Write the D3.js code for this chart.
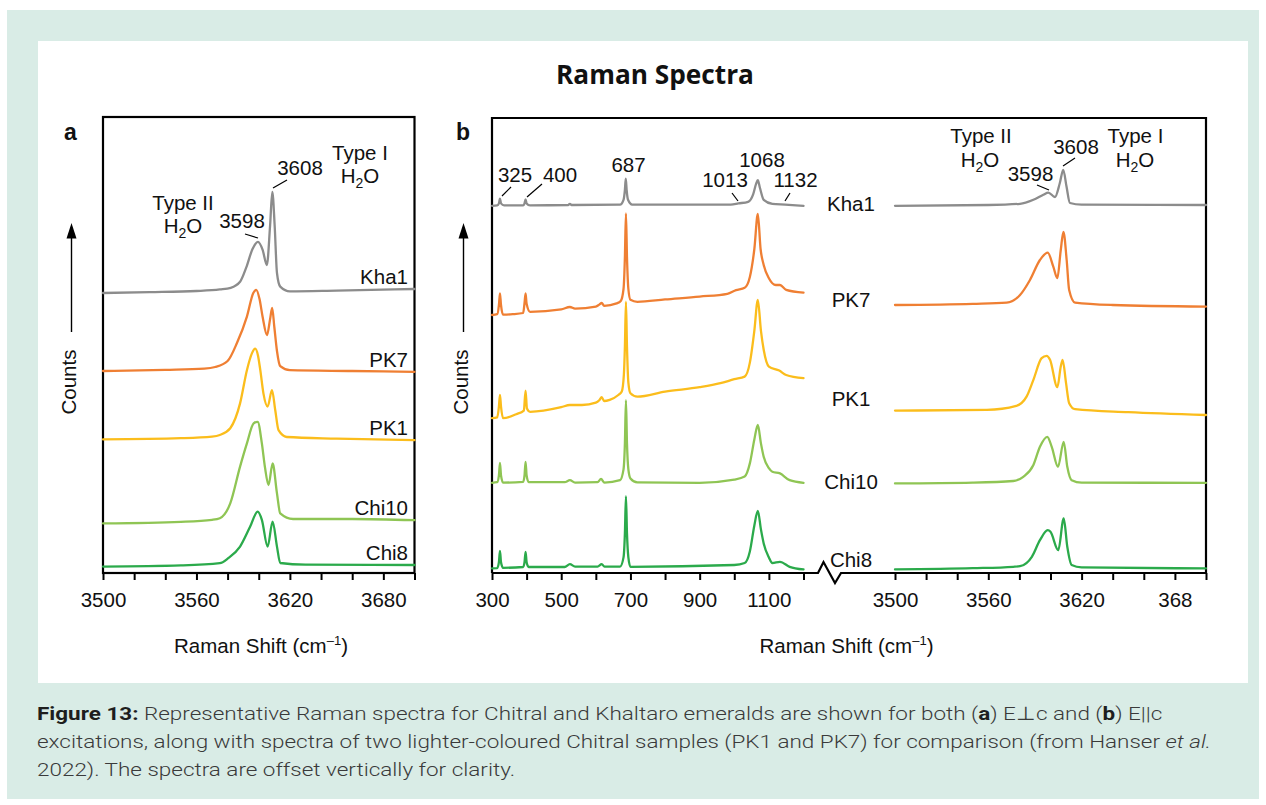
<!DOCTYPE html>
<html><head><meta charset="utf-8">
<script src="https://cdn.jsdelivr.net/npm/d3@7"></script>
<style>
body{margin:0;background:#fff}
svg{display:block}
text{font-family:"Liberation Sans",Arial,Helvetica,sans-serif;fill:#111}
</style>
</head><body>
<svg id="c" width="1266" height="805"></svg>
<script>
// ---------------- DATA ----------------
const samples = ["Kha1", "PK7", "PK1", "Chi10", "Chi8"];

// Panel a (E⊥c), OH stretching region: [Raman shift cm-1, relative counts]
const offsetsA = [70, 50.5, 33.4, 12.4, 1.6];
const kha1A = [[3500,0],[3530,0.2],[3560,0.5],[3575,0.9],[3582,1.3],[3588,2.8],[3592,6.4],[3596,11],[3599.5,12.8],[3602.5,10.8],[3605.2,7],[3607.3,17],[3608.7,25.3],[3610.2,17],[3611.7,5],[3613.8,1.6],[3620,0.4],[3650,0.6],[3700,1]];
const pk7A = [[3500,0],[3540,0.3],[3565,0.6],[3572,1],[3580,2.5],[3586,7],[3592.4,13.6],[3596.5,19.5],[3598.4,20.3],[3600.5,18],[3602.5,13.5],[3605.3,9],[3607.3,13],[3608.6,15.8],[3610,11],[3611.7,5],[3613.8,1.2],[3620,0.2],[3660,0],[3700,-0.2]];
const pk1A = [[3500,0],[3550,0.3],[3570,0.7],[3575,1.1],[3581.7,2.8],[3588,9],[3592.4,17.3],[3595.6,21.5],[3597.7,22.7],[3599.5,21],[3601,17.3],[3603,11.5],[3605.7,8.2],[3608.5,12.3],[3610.6,7.3],[3612.7,2.3],[3618,0.6],[3650,0.2],[3700,-0.2]];
const chi10A = [[3500,0],[3550,0.4],[3570,0.9],[3575,1.3],[3581.7,5],[3588,14.2],[3592.4,20],[3596.7,25],[3599.3,25.4],[3602,20],[3604,14],[3606.3,9.6],[3608.9,15],[3611.7,7.5],[3613.8,2.5],[3622,1.1],[3660,1.1],[3700,0.8]];
const chi8A = [[3500,0],[3550,0.3],[3575,0.85],[3580.4,2.1],[3588,5],[3594.5,10],[3599.3,13.75],[3602,11.7],[3605.7,5],[3608.9,11.25],[3611.7,5],[3613.8,0.9],[3630,0.5],[3700,0.4]];
const spectraA = [kha1A, pk7A, pk1A, chi10A, chi8A];

// Panel b (E||c): low-wavenumber section and OH section
const offsetsB = [91.8, 67, 40.6, 22.4, 0.9];
const kha1BL = [[300,0],[315,0.1],[320,0.6],[323,1.8],[326,0.6],[335,0.1],[390,0.1],[394,0.6],[397,1.6],[400,0.6],[410,0.1],[520,0.2],[525,0.5],[530,0.2],[670,0.3],[680,1.5],[684,4],[686.5,6.8],[689,4],[693,1.5],[705,0.3],[990,0.3],[1012,0.6],[1040,1],[1055,3],[1063,5.5],[1068,6.4],[1074,4.5],[1085,1.5],[1110,0.5],[1147,0.3],[1200,0]];
const pk7BL = [[300,-2.5],[315,-2.3],[320,0],[323,2.9],[326,0],[332,-2.4],[360,-2.3],[390,-2],[394,0.5],[397,2.9],[400,0.3],[410,-1.7],[500,-1.1],[525,-0.5],[540,-0.9],[600,-0.4],[610,0.1],[617,0.5],[624,-0.2],[660,0.4],[672,1],[680,4],[684,12],[687,22.9],[690,12],[694,4],[700,1.3],[720,0.8],[800,1.4],[900,2.1],[980,2.8],[1005,3.7],[1030,4.3],[1045,7],[1058,14],[1068,22.75],[1076,14],[1085,10],[1100,6.7],[1120,5],[1132,5],[1150,3.8],[1200,3.1]];
const pk1BL = [[300,-1.9],[315,-1.7],[320,1],[323,3.9],[326,1],[332,-1.9],[370,-0.9],[392,0],[397,5],[401,0.5],[410,-0.3],[500,0.85],[525,1.4],[560,1.4],[600,2],[610,2.6],[617,3.35],[624,2.4],[640,2.7],[665,3.9],[675,4.8],[681,9],[684,16],[687,27.25],[690,16],[694,7],[700,4.35],[720,3.5],[800,4.75],[900,5.85],[960,6.85],[1000,7.85],[1030,8.5],[1045,12],[1058,20],[1068,27.7],[1077,20],[1085,15.2],[1100,11],[1130,10],[1150,8.9],[1200,8.1]];
const chi10BL = [[300,0.15],[315,0.3],[320,2],[323,5.15],[326,2],[332,0.2],[390,0.4],[394,2],[397,5.4],[400,2],[406,0.3],[510,0.3],[525,0.8],[540,0.2],[605,0.3],[615,1.1],[625,0.2],[670,0.8],[680,3.5],[684,10],[687,20.8],[690,10],[694,3.5],[700,1.25],[720,0.25],[900,0.15],[1000,0.95],[1030,1.7],[1045,5],[1058,11],[1068,14.6],[1077,10],[1085,6.65],[1100,3.8],[1110,2.9],[1132,2.5],[1160,0.8],[1200,0.15]];
const chi8BL = [[300,0.25],[315,0.3],[320,1.8],[323,4.65],[326,1.8],[332,0.4],[390,0.6],[394,1.8],[397,4.4],[400,1.8],[406,0.6],[510,0.6],[525,1.3],[540,0.7],[605,0.7],[617,1.3],[625,0.7],[670,0.7],[680,3],[684,9],[687,18.3],[690,9],[694,3],[700,0.65],[1000,1.1],[1030,1.6],[1045,4.5],[1058,11],[1068,14.65],[1077,10],[1085,6.5],[1100,3],[1110,1.6],[1132,1.9],[1160,0.65],[1200,0]];
const spectraBL = [kha1BL, pk7BL, pk1BL, chi10BL, chi8BL];

const kha1BR = [[3500,0],[3560,0.2],[3580.4,0.5],[3589,1.5],[3595.4,2.75],[3598.6,3.3],[3602.9,2.2],[3606,5.7],[3608.2,9],[3610.3,4.8],[3612.5,0.7],[3620,0.3],[3700,0.2]];
const pk7BR = [[3500,0],[3550,0.3],[3571.8,0.6],[3580.4,2.5],[3586.8,6.25],[3593.2,11.25],[3598.2,13.1],[3601.8,9.6],[3604.4,6.7],[3606.6,13.75],[3608.3,18.3],[3610.4,11.25],[3612,3.75],[3615.8,0.6],[3640,0],[3700,-0.4]];
const pk1BR = [[3500,0],[3559,0.2],[3578,1.2],[3584.6,3.5],[3589,7.7],[3594.3,13.1],[3597.5,13.7],[3599.7,12.7],[3604.4,5.85],[3606.6,11],[3607.8,12.7],[3610,6.85],[3612,1.85],[3615.8,0.35],[3650,-0.4],[3700,-1.1]];
const chi10BR = [[3500,0],[3550,0.2],[3576,0.6],[3582.5,1.65],[3589,4.6],[3593.2,9.15],[3597.9,11.65],[3600.8,9.15],[3604.8,4.15],[3608.5,10.4],[3610.8,4.15],[3613.6,0.8],[3620,0.2],[3700,0.15]];
const chi8BR = [[3500,0],[3550,0.3],[3576,0.65],[3580.4,0.8],[3588,3.15],[3593.2,7.3],[3598.2,9.8],[3600,9.4],[3605,4.8],[3608.5,12.75],[3610.8,5.65],[3613.6,1.1],[3620,0.5],[3700,0.25]];
const spectraBR = [kha1BR, pk7BR, pk1BR, chi10BR, chi8BR];

// Tick values and labels
const ticksA = d3.range(3500, 3701, 20);
const tickLabelsA = {3500:"3500", 3560:"3560", 3620:"3620", 3680:"3680"};
const ticksBL = d3.range(300, 1201, 100);
const tickLabelsBL = {300:"300", 500:"500", 700:"700", 900:"900", 1100:"1100"};
const ticksBR = d3.range(3500, 3701, 20);
const tickLabelsBR = {3500:"3500", 3560:"3560", 3620:"3620", 3680:"368"};

// Text
const title = "Raman Spectra";
const yLabel = "Counts";
const captionLines = [
  [{t:"Figure 13:",w:"bold"},{t:" Representative Raman spectra for Chitral and Khaltaro emeralds are shown for both ("},{t:"a",w:"bold"},{t:") E⊥c and ("},{t:"b",w:"bold"},{t:") E||c"}],
  [{t:"excitations, along with spectra of two lighter-coloured Chitral samples (PK1 and PK7) for comparison (from Hanser "},{t:"et al.",s:"italic"}],
  [{t:"2022). The spectra are offset vertically for clarity."}]
];

// ---------------- STYLE / LAYOUT ----------------
const colors = ["#8c8c8c", "#ef7f33", "#fbbd1c", "#8fc554", "#2baa4b"];
const FS = 20.5;
const svg = d3.select("#c");

svg.append("rect").attr("x",7).attr("y",10).attr("width",1252).attr("height",789).attr("fill","#d9ece6");
svg.append("rect").attr("x",38).attr("y",41).attr("width",1210).attr("height",642).attr("fill","#fff");

const yTop = 117, yBot = 573;
const y = d3.scaleLinear().domain([0, 114]).range([yBot, yTop]);
const xA = d3.scaleLinear().domain([3500, 3700]).range([103, 414.5]);
const xBL = d3.scaleLinear().domain([300, 1200]).range([492, 803.5]);
const xBR = d3.scaleLinear().domain([3500, 3700]).range([895, 1206]);

function line(xs){ return d3.line().x(d=>xs(d[0])).y(d=>y(d[1])).curve(d3.curveMonotoneX); }
function drawSpec(data, off, xs, color){
  svg.append("path").datum(data.map(d=>[d[0], d[1]+off]))
    .attr("d", line(xs)).attr("fill","none").attr("stroke",color)
    .attr("stroke-width",2.3).attr("stroke-linejoin","round").attr("stroke-linecap","round");
}

// Title
const tt = svg.append("text").attr("x",655).attr("y",84).attr("text-anchor","middle")
  .attr("font-weight","bold").attr("font-size",23).style("font-family","'Open Sans','Liberation Sans',sans-serif").text(title);
(function(){ const w = tt.node().getComputedTextLength(); tt.attr("font-size", 23*198/w); })();

// Panel labels
svg.append("text").attr("x",64).attr("y",140).attr("font-size",23).attr("font-weight","bold").text("a");
svg.append("text").attr("x",456).attr("y",140).attr("font-size",23).attr("font-weight","bold").text("b");

// Axes helper
function styleAxis(g){
  g.select(".domain").remove();
  g.selectAll(".tick line").attr("stroke","#000").attr("stroke-width",2);
  g.selectAll(".tick text").attr("font-size",FS).attr("fill","#111")
    .style("font-family","'Liberation Sans',Arial,sans-serif");
}
svg.append("g").attr("transform",`translate(0,${yBot})`)
  .call(d3.axisBottom(xA).tickValues(ticksA).tickSize(7).tickPadding(12).tickFormat(d=>tickLabelsA[d]||""))
  .call(styleAxis);
svg.append("g").attr("transform",`translate(0,${yBot})`)
  .call(d3.axisBottom(xBL).tickValues(ticksBL).tickSize(7).tickPadding(12).tickFormat(d=>tickLabelsBL[d]||""))
  .call(styleAxis);
svg.append("g").attr("transform",`translate(0,${yBot})`)
  .call(d3.axisBottom(xBR).tickValues(ticksBR).tickSize(7).tickPadding(12).tickFormat(d=>tickLabelsBR[d]||""))
  .call(styleAxis);

// Frames
svg.append("rect").attr("x",xA(3500)).attr("y",yTop).attr("width",xA(3700)-xA(3500)).attr("height",yBot-yTop)
  .attr("fill","none").attr("stroke","#000").attr("stroke-width",2.2);
svg.append("path").attr("d",`M${xBL(300)},${yBot}V${yTop+1}H${xBR(3700)}V${yBot}`)
  .attr("fill","none").attr("stroke","#000").attr("stroke-width",2.2);
// axis with break
svg.append("path").attr("d",`M${xBL(300)},${yBot}H818L823.5,562L835,583L841,${yBot}H${xBR(3700)}`)
  .attr("fill","none").attr("stroke","#000").attr("stroke-width",2.2).attr("stroke-linejoin","miter");

// Spectra
samples.forEach((s,i)=>{
  drawSpec(spectraA[i], offsetsA[i], xA, colors[i]);
  drawSpec(spectraBL[i], offsetsB[i], xBL, colors[i]);
  drawSpec(spectraBR[i], offsetsB[i], xBR, colors[i]);
});

// Sample labels
samples.forEach((s,i)=>{
  const last = spectraA[i][spectraA[i].length-1][1];
  svg.append("text").attr("x",408).attr("y",y(offsetsA[i]+last)-5).attr("text-anchor","end")
    .attr("font-size",FS).text(s);
});
const nudgeB = [5, 2, -5, 6, -2];
samples.forEach((s,i)=>{
  svg.append("text").attr("x",851).attr("y",y(offsetsB[i])+nudgeB[i]).attr("text-anchor","middle")
    .attr("font-size",FS).text(s);
});

// Annotations
function txt(x,yy,t){ return svg.append("text").attr("x",x).attr("y",yy).attr("text-anchor","middle").attr("font-size",FS).text(t); }
function h2o(x,yy){
  const t = svg.append("text").attr("x",x).attr("y",yy).attr("text-anchor","middle").attr("font-size",FS);
  t.append("tspan").text("H");
  t.append("tspan").attr("font-size",14).attr("dy",5).text("2");
  t.append("tspan").attr("dy",-5).text("O");
}
function lead(x1,y1,x2,y2){ svg.append("line").attr("x1",x1).attr("y1",y1).attr("x2",x2).attr("y2",y2).attr("stroke","#000").attr("stroke-width",1.2); }

txt(360,160,"Type I"); h2o(360,183);
txt(300,175,"3608"); lead(273,188,287,180);
txt(183,210,"Type II"); h2o(183,233);
txt(242,228,"3598"); lead(245,234,258,238);

txt(515,182,"325"); lead(502,196,511,187);
txt(560,182,"400"); lead(527,197,542,184);
txt(628.5,172,"687");
txt(762,167,"1068");
txt(725,187,"1013"); lead(732,193,738,201);
txt(795.5,187,"1132"); lead(790,193,785,201);

txt(981,143,"Type II"); h2o(980,167);
txt(1030.5,181,"3598"); lead(1037,185,1049,190);
txt(1076,154,"3608"); lead(1063,166,1075,158);
txt(1135.5,143,"Type I"); h2o(1135,167);

// Y labels with arrows
function yLab(xArrow, xBase){
  svg.append("line").attr("x1",xArrow).attr("x2",xArrow).attr("y1",332).attr("y2",236).attr("stroke","#000").attr("stroke-width",1.4);
  svg.append("path").attr("d",`M${xArrow},223L${xArrow-5},238.5L${xArrow+5},238.5Z`).attr("fill","#000");
  svg.append("text").attr("transform",`translate(${xBase},382) rotate(-90)`).attr("text-anchor","middle").attr("font-size",FS).text(yLabel);
}
yLab(71.5, 76);
yLab(463.5, 468);

// X labels
function xLab(cx){
  const t = svg.append("text").attr("x",cx).attr("y",653).attr("text-anchor","middle").attr("font-size",FS);
  t.append("tspan").text("Raman Shift (cm");
  t.append("tspan").attr("font-size",13).attr("dy",-8).text("–1");
  t.append("tspan").attr("dy",8).text(")");
}
xLab(261); xLab(846.5);

// Caption: condensed look by compressing glyphs to the measured line widths
const capFont = "Roboto,'Open Sans',sans-serif";
const capY = [720, 748, 776];
const capNodes = captionLines.map((ln,i)=>{
  const t = svg.append("text").attr("x",37).attr("y",capY[i]).attr("font-size",19)
    .style("font-family",capFont).attr("font-weight",300).style("fill","#3a3a3a");
  ln.forEach(p=>{
    const sp = t.append("tspan").text(p.t);
    if(p.w) sp.attr("font-weight",p.w).style("fill","#1e1e1e");
    if(p.s) sp.attr("font-style",p.s);
  });
  return t;
});
(function(){
  const widths = capNodes.map(t=>t.node().getComputedTextLength());
  const k = 1174/widths[1];
  capNodes.forEach((t,i)=>t.attr("textLength",widths[i]*k).attr("lengthAdjust","spacingAndGlyphs"));
})();
</script>
</body></html>
